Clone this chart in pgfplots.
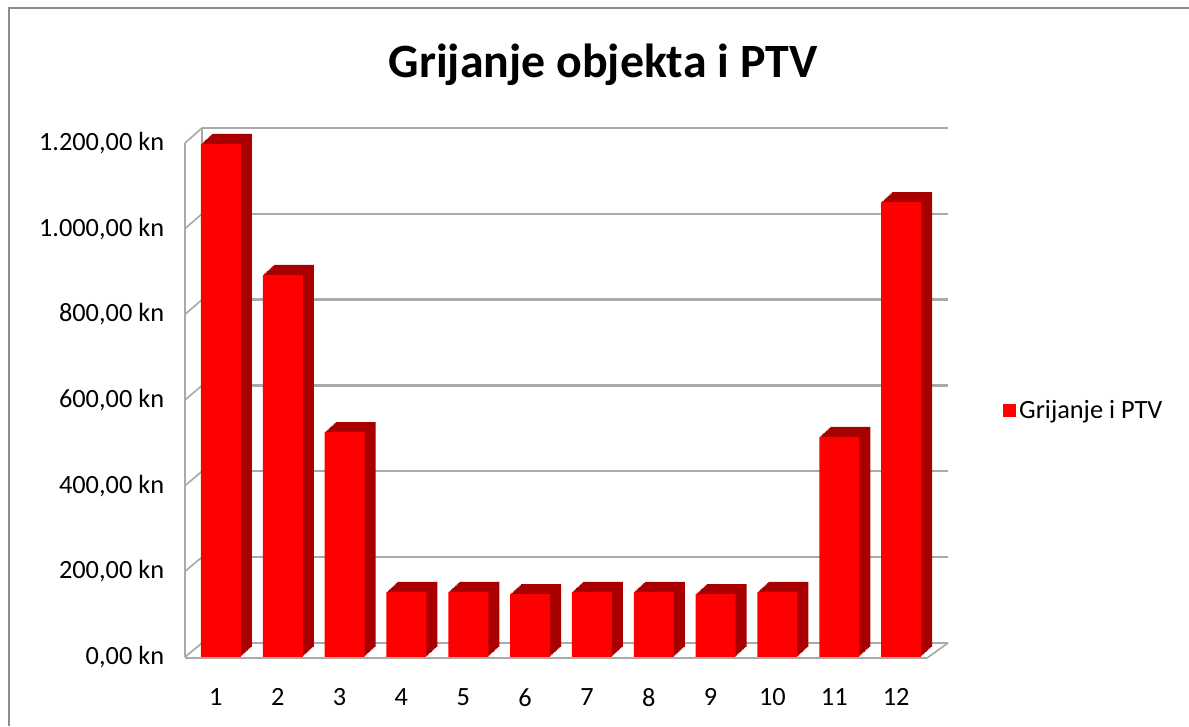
\documentclass[border=0pt]{standalone}
\usepackage{fontspec}
\setmainfont{Carlito}
\usepackage{pgfplots}
\usepackage{pgfplotstable}
\pgfplotsset{compat=1.18}
\definecolor{barred}{RGB}{255,0,0}
\definecolor{bardark}{RGB}{168,0,0}
\definecolor{gridgray}{RGB}{170,170,170}
\definecolor{framegray}{RGB}{140,140,140}

\pgfplotstableread{
x y
1 1198
2 892
3 525
4 152
5 152
6 147
7 152
8 152
9 147
10 152
11 514
12 1062
}\data

\begin{document}
\begin{tikzpicture}
\path[use as bounding box] (0pt,0pt) rectangle (713.4pt,435.6pt);
\draw[framegray, line width=1.2pt] (5.4pt,0pt) -- (5.4pt,430.8pt) -- (713.4pt,430.8pt);

% title
\node[anchor=base, font=\fontsize{28.7}{34}\selectfont\bfseries] at (361.8pt,388.8pt) {Grijanje objekta i PTV};

% back wall with gridlines
\begin{axis}[at={(121.2pt,49.8pt)}, anchor=south west, scale only axis,
  width=447.6pt, height=309pt,
  xmin=0.5, xmax=12.5, ymin=0, ymax=1200, enlargelimits=false,
  ytick={200,400,...,1200}, xtick=\empty, yticklabels={},
  ymajorgrids, major grid style={gridgray, line width=1.4pt},
  axis line style={draw=none}, tick style={draw=none}]
\addplot[draw=none, forget plot] table[x=x,y=y] {\data};
\end{axis}

% walls and floor
\begin{scope}[x=0.6pt, y=0.6pt, gridgray, line width=1pt]
\draw (185,69) -- (185,583);
\draw (202,83) -- (202,598);
\foreach \k in {0,...,6} \draw (185,{69+\k*85.667}) -- (202,{83+\k*85.833});
\draw (202,83) -- (948,83);
\draw (927,68) -- (948,83);
\draw[line width=1.6pt] (185,68) -- (927,68);
\end{scope}

% bar depth (several shifted layers form the side and top faces)
\foreach \k in {1,...,8}{
\begin{axis}[at={({111pt+\k*0.825pt},{41.4pt+\k*0.75pt})}, anchor=south west, scale only axis,
  width=445.2pt, height=308.4pt,
  xmin=0.5, xmax=12.5, ymin=0, ymax=1200, enlargelimits=false,
  hide axis, ybar]
\addplot[ybar, bar width=24pt, bar shift=3pt, fill=bardark, draw=none, forget plot] table[x=x,y=y] {\data};
\end{axis}
}

% front bars
\begin{axis}[at={(111pt,41.4pt)}, anchor=south west, scale only axis,
  width=445.2pt, height=308.4pt,
  xmin=0.5, xmax=12.5, ymin=0, ymax=1200, enlargelimits=false,
  ybar,
  xtick={1,...,12},
  ytick={0,200,...,1200},
  yticklabels={{0,00 kn},{200,00 kn},{400,00 kn},{600,00 kn},{800,00 kn},{1.000,00 kn},{1.200,00 kn}},
  axis line style={draw=none}, tick style={draw=none},
  /pgf/number format/assume math mode=true,
  every tick label/.append style={font=\fontsize{15.8}{19}\selectfont},
  xticklabel style={yshift=-11pt},
  yticklabel style={xshift=-9pt},
  legend style={at={(1.095,0.4786)}, anchor=west, draw=none, fill=none,
    font=\fontsize{15.8}{19}\selectfont},
  legend image code/.code={\fill[barred] (0pt,-3.9pt) rectangle (7.8pt,3.9pt);}]
\addplot[ybar, bar width=24pt, bar shift=3pt, fill=barred, draw=none] table[x=x,y=y] {\data};
\addlegendentry{Grijanje i PTV}
\end{axis}
\end{tikzpicture}
\end{document}
